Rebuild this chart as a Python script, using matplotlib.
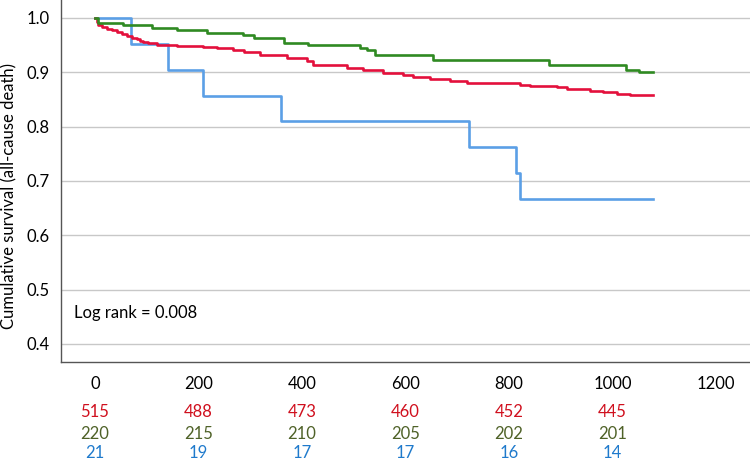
import matplotlib
matplotlib.use("Agg")
import matplotlib.pyplot as plt
import matplotlib.transforms as mtransforms

plt.rcParams['font.family'] = ['Lato', 'DejaVu Sans']

# ---- data ----
red_t = [0, 3, 6, 13, 23, 32, 42, 52, 61, 71, 81, 87, 93, 103, 119, 158, 209, 235, 267, 287,
         319, 371, 409, 422, 487, 518, 557, 595, 615, 647, 686, 718, 750, 821, 841, 893, 912,
         957, 982, 1008, 1034, 1078]
red_s = [1.0, 0.993, 0.987, 0.984, 0.980, 0.977, 0.974, 0.971, 0.967, 0.964, 0.961, 0.958, 0.955,
         0.953, 0.951, 0.949, 0.946, 0.944, 0.941, 0.938, 0.932, 0.926, 0.920, 0.913, 0.907, 0.904,
         0.898, 0.895, 0.891, 0.887, 0.884, 0.881, 0.880, 0.877, 0.875, 0.872, 0.869, 0.866, 0.863,
         0.860, 0.858, 0.858]

green_t = [0, 5, 54, 110, 158, 216, 286, 307, 365, 412, 512, 525, 541, 653, 877, 1026, 1051, 1078]
green_s = [1.0, 0.991, 0.987, 0.982, 0.977, 0.972, 0.968, 0.963, 0.954, 0.950, 0.945, 0.941,
           0.932, 0.922, 0.913, 0.904, 0.900, 0.900]

blue_t = [0, 70, 141, 209, 359, 723, 813, 821, 1078]
blue_s = [1.0, 0.952, 0.905, 0.857, 0.810, 0.762, 0.714, 0.667, 0.667]

x_ticks = [0, 200, 400, 600, 800, 1000, 1200]
y_ticks = [0.4, 0.5, 0.6, 0.7, 0.8, 0.9, 1.0]

risk_times = [0, 200, 400, 600, 800, 1000]
risk_red = [515, 488, 473, 460, 452, 445]
risk_green = [220, 215, 210, 205, 202, 201]
risk_blue = [21, 19, 17, 17, 16, 14]

log_rank_text = "Log rank = 0.008"
y_label = "Cumulative survival (all-cause death)"

# ---- styling ----
c_red = '#E3103C'
c_green = '#2F8A22'
c_blue = '#5B9FE6'
t_red = '#D0101E'
t_green = '#4F6228'
t_blue = '#1F7ACC'

fig = plt.figure(figsize=(7.5, 4.61), dpi=100)
ax = fig.add_axes([61/750, 1 - 362/461, 689/750, 362/461])

ax.step(blue_t, blue_s, where='post', color=c_blue, lw=1.9, zorder=3)
ax.step(red_t, red_s, where='post', color=c_red, lw=1.9, zorder=4)
ax.step(green_t, green_s, where='post', color=c_green, lw=1.9, zorder=5)

ax.set_xlim(-65.7, 1265.7)
ax.set_ylim(0.3665, 1.0331)
ax.set_xticks(x_ticks)
ax.set_yticks(y_ticks)
ax.set_yticklabels([f"{v:.1f}" for v in y_ticks])
ax.tick_params(axis='both', length=0, labelsize=12, colors='black')
ax.tick_params(axis='x', pad=10)
ax.tick_params(axis='y', pad=8)
ax.grid(axis='y', color='#c8c8c8', lw=1.0)
ax.set_axisbelow(True)
for s in ['top', 'right']:
    ax.spines[s].set_visible(False)
for s in ['left', 'bottom']:
    ax.spines[s].set_color('#555555')
    ax.spines[s].set_linewidth(1.0)

ax.set_ylabel(y_label, fontsize=12)
ax.yaxis.set_label_coords((17 - 61) / 689, (362 - 196) / 362)

ax.text(-41, 0.457, log_rank_text, fontsize=12, ha='left', va='center')

trans = mtransforms.blended_transform_factory(ax.transData, fig.transFigure)
for row, vals, col in [(412, risk_red, t_red), (434, risk_green, t_green), (453, risk_blue, t_blue)]:
    for t, v in zip(risk_times, vals):
        ax.text(t, 1 - row/461, str(v), transform=trans, ha='center', va='center',
                fontsize=12, color=col, clip_on=False)

fig.savefig('out.png', dpi=100)
